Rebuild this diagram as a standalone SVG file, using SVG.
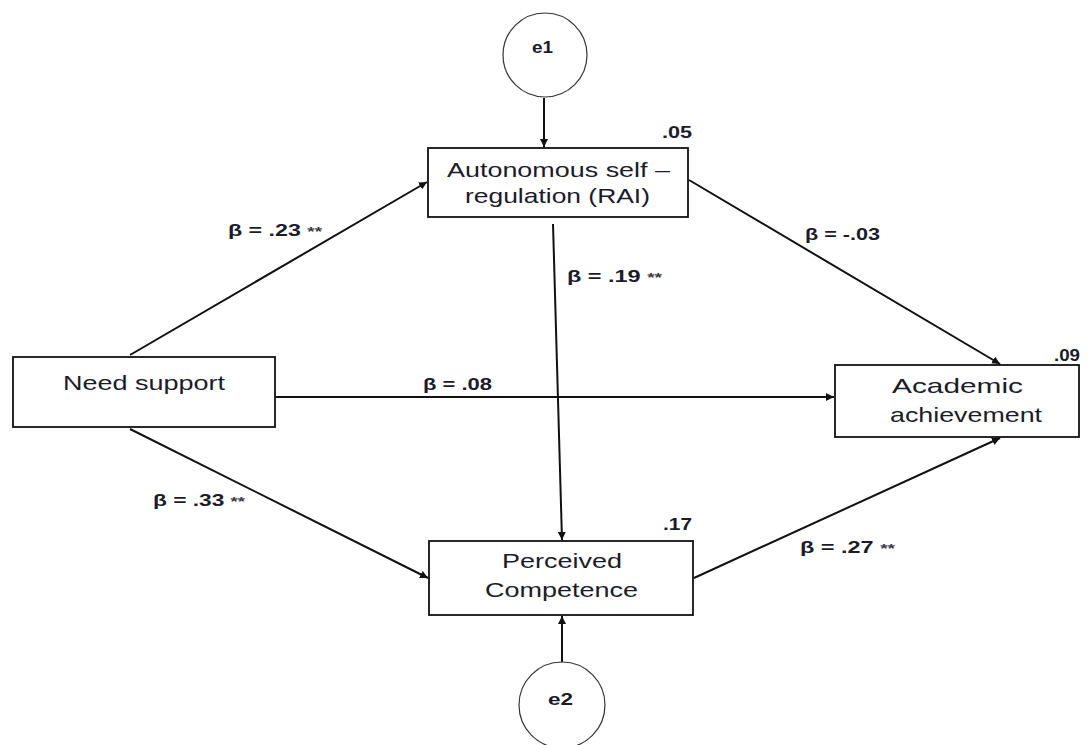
<svg xmlns="http://www.w3.org/2000/svg" width="1089" height="745" viewBox="0 0 1089 745">
<style>
.box{fill:#fff;stroke:#111;stroke-width:1.8}
.circ{fill:#fff;stroke:#333;stroke-width:1.2}
.lbl{font-family:"Liberation Sans",Arial,sans-serif;font-size:21px;fill:#1b1b2a}
.coef{font-family:"Liberation Sans",Arial,sans-serif;font-size:16px;font-weight:bold;fill:#1b1b2a}
.st{font-size:13px;fill:#3a3a4a}
.conn{stroke:#111;stroke-width:2;fill:none;marker-end:url(#ah)}
</style>
<defs>
<marker id="ah" viewBox="0 0 10 10" refX="10" refY="5" markerWidth="8" markerHeight="8" markerUnits="userSpaceOnUse" orient="auto">
<path d="M0,0 L10,5 L0,10 z" fill="#111"/>
</marker>
</defs>
<rect width="1089" height="745" fill="#fff"/>
<g id="connectors">
<line class="conn" x1="544" y1="98" x2="544" y2="147"/>
<line class="conn" x1="562" y1="664" x2="562" y2="616"/>
<line class="conn" x1="130" y1="355" x2="427" y2="182"/>
<line class="conn" x1="130" y1="429" x2="428" y2="578"/>
<line class="conn" x1="276" y1="397" x2="834" y2="397"/>
<line class="conn" x1="689" y1="180" x2="1000" y2="364"/>
<line class="conn" x1="694" y1="578" x2="1000" y2="438"/>
<line class="conn" x1="553" y1="224" x2="562" y2="540"/>
</g>
<g id="e1"><circle class="circ" cx="545" cy="55" r="42"/><text class="coef" x="532" y="53" font-size="15" textLength="21" lengthAdjust="spacingAndGlyphs">e1</text></g>
<g id="e2"><circle class="circ" cx="562" cy="705" r="43"/><text class="coef" x="548" y="705" font-size="15" textLength="25" lengthAdjust="spacingAndGlyphs">e2</text></g>
<g id="rai"><rect class="box" x="428" y="148" width="260" height="69"/>
<text class="lbl" x="447" y="177" textLength="223" lengthAdjust="spacingAndGlyphs">Autonomous self –</text>
<text class="lbl" x="465" y="203" textLength="185" lengthAdjust="spacingAndGlyphs">regulation (RAI)</text>
<text class="coef" x="662" y="138" textLength="30" lengthAdjust="spacingAndGlyphs">.05</text></g>
<g id="need"><rect class="box" x="13" y="357" width="262" height="70"/>
<text class="lbl" x="63" y="390" textLength="162" lengthAdjust="spacingAndGlyphs">Need support</text></g>
<g id="acad"><rect class="box" x="835" y="365" width="244" height="72"/>
<text class="lbl" x="892" y="393" textLength="131" lengthAdjust="spacingAndGlyphs">Academic</text>
<text class="lbl" x="890" y="422" textLength="152" lengthAdjust="spacingAndGlyphs">achievement</text>
<text class="coef" x="1054" y="361" textLength="26" lengthAdjust="spacingAndGlyphs">.09</text></g>
<g id="perc"><rect class="box" x="429" y="541" width="264" height="74"/>
<text class="lbl" x="502" y="568" textLength="120" lengthAdjust="spacingAndGlyphs">Perceived</text>
<text class="lbl" x="485" y="597" textLength="153" lengthAdjust="spacingAndGlyphs">Competence</text>
<text class="coef" x="663" y="530" textLength="29" lengthAdjust="spacingAndGlyphs">.17</text></g>
<g id="labels">
<text class="coef" x="228" y="236" textLength="94" lengthAdjust="spacingAndGlyphs">β = .23 <tspan class="st">**</tspan></text>
<text class="coef" x="805" y="240" textLength="75" lengthAdjust="spacingAndGlyphs">β = -.03</text>
<text class="coef" x="567" y="282" textLength="95" lengthAdjust="spacingAndGlyphs">β = .19 <tspan class="st">**</tspan></text>
<text class="coef" x="423" y="390" textLength="69" lengthAdjust="spacingAndGlyphs">β = .08</text>
<text class="coef" x="153" y="506" textLength="92" lengthAdjust="spacingAndGlyphs">β = .33 <tspan class="st">**</tspan></text>
<text class="coef" x="800" y="553" textLength="95" lengthAdjust="spacingAndGlyphs">β = .27 <tspan class="st">**</tspan></text>
</g>
</svg>
